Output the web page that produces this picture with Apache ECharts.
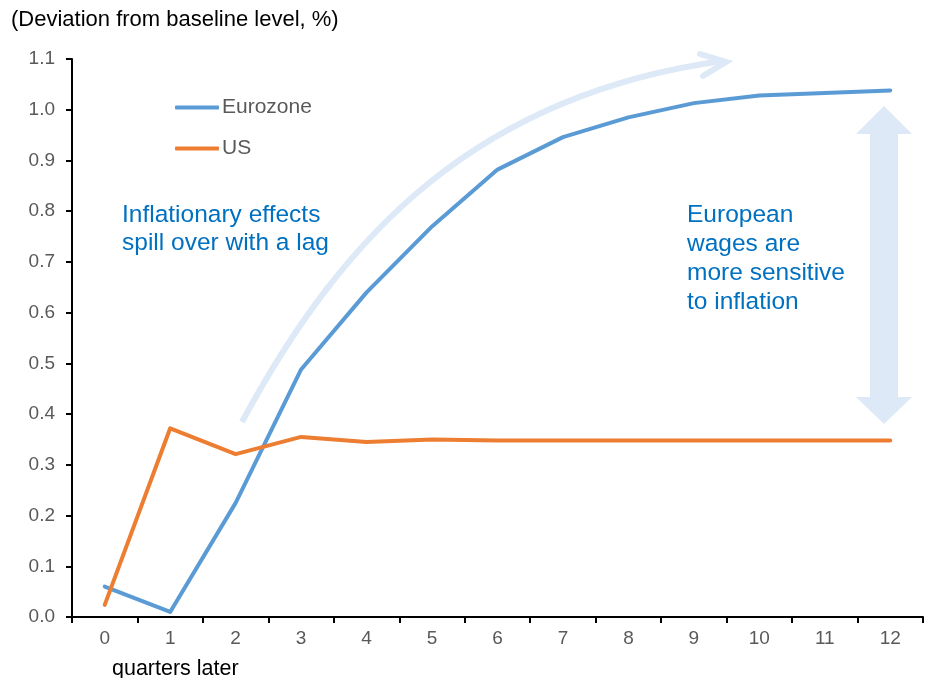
<!DOCTYPE html>
<html>
<head>
<meta charset="utf-8">
<script src="https://cdn.jsdelivr.net/npm/echarts@6/dist/echarts.min.js"></script>
<style>
  html, body { margin: 0; padding: 0; background: #fff; }
  #chart { width: 926px; height: 678px; }
</style>
</head>
<body>
<div id="chart"></div>
<script>
const quarters = ['0', '1', '2', '3', '4', '5', '6', '7', '8', '9', '10', '11', '12'];
const eurozone = [0.06, 0.01, 0.225, 0.488, 0.64, 0.77, 0.882, 0.946, 0.985, 1.013, 1.028, 1.033, 1.038];
const us = [0.024, 0.372, 0.321, 0.355, 0.345, 0.35, 0.348, 0.348, 0.348, 0.348, 0.348, 0.348, 0.348];

const font = 'Liberation Sans, Arial, sans-serif';
const note = '#0070c0';
const pale = '#dde9f6';

const chart = echarts.init(document.getElementById('chart'));
chart.setOption({
  animation: false,
  textStyle: { fontFamily: font },
  grid: { left: 72, right: 3, top: 59, bottom: 61 },
  legend: {
    orient: 'vertical',
    left: 170,
    top: 92,
    itemWidth: 44,
    itemHeight: 4,
    itemGap: 20,
    icon: 'roundRect',
    textStyle: { color: '#595959', fontSize: 21, fontFamily: font, padding: [0, 0, 0, -2] },
    data: ['Eurozone', 'US']
  },
  xAxis: {
    type: 'category',
    data: quarters,
    boundaryGap: true,
    axisLine: { lineStyle: { color: '#000', width: 2 } },
    axisTick: { show: true, length: 6, lineStyle: { color: '#000', width: 2 } },
    axisLabel: { color: '#595959', fontSize: 19, margin: 12, fontFamily: font },
    splitLine: { show: false }
  },
  yAxis: {
    type: 'value',
    min: 0,
    max: 1.1,
    interval: 0.1,
    axisLine: { show: true, lineStyle: { color: '#000', width: 2 } },
    axisTick: { show: true, length: 6, lineStyle: { color: '#000', width: 2 } },
    axisLabel: {
      color: '#595959', fontSize: 19, margin: 17, fontFamily: font,
      formatter: v => v.toFixed(1)
    },
    splitLine: { show: false }
  },
  series: [
    {
      name: 'Eurozone',
      type: 'line',
      data: eurozone,
      symbol: 'none',
      color: '#5b9bd5',
      lineStyle: { width: 4, cap: 'round', join: 'round' },
      z: 3
    },
    {
      name: 'US',
      type: 'line',
      data: us,
      symbol: 'none',
      color: '#ed7d31',
      lineStyle: { width: 4, cap: 'round', join: 'round' },
      z: 4
    }
  ],
  graphic: [
    {
      type: 'text', left: 11, top: 9,
      style: { text: '(Deviation from baseline level, %)', fill: '#000', fontSize: 22, fontFamily: font }
    },
    {
      type: 'text', left: 112, top: 658,
      style: { text: 'quarters later', fill: '#000', fontSize: 21.5, fontFamily: font }
    },
    {
      type: 'text', left: 122, top: 201,
      style: { text: 'Inflationary effects\nspill over with a lag', fill: note, fontSize: 24.5, lineHeight: 28, fontFamily: font }
    },
    {
      type: 'text', left: 687, top: 201,
      style: { text: 'European\nwages are\nmore sensitive\nto inflation', fill: note, fontSize: 24.5, lineHeight: 29, fontFamily: font }
    },
    {
      type: 'bezierCurve', z: 1,
      shape: { x1: 242, y1: 422, cpx1: 345, cpy1: 230, cpx2: 480, cpy2: 95, x2: 722, y2: 61 },
      style: { stroke: pale, lineWidth: 6, fill: null }
    },
    {
      type: 'polyline', z: 1,
      shape: { points: [[700, 54], [726, 62], [703, 76]] },
      style: { stroke: pale, lineWidth: 6, fill: null, lineCap: 'round', lineJoin: 'miter' }
    },
    {
      type: 'polygon', z: 1,
      shape: {
        points: [[884, 106], [912, 134], [898, 134], [898, 397], [912, 397], [884, 424],
                 [856, 397], [870, 397], [870, 134], [856, 134]]
      },
      style: { fill: pale }
    }
  ]
});
</script>
</body>
</html>
